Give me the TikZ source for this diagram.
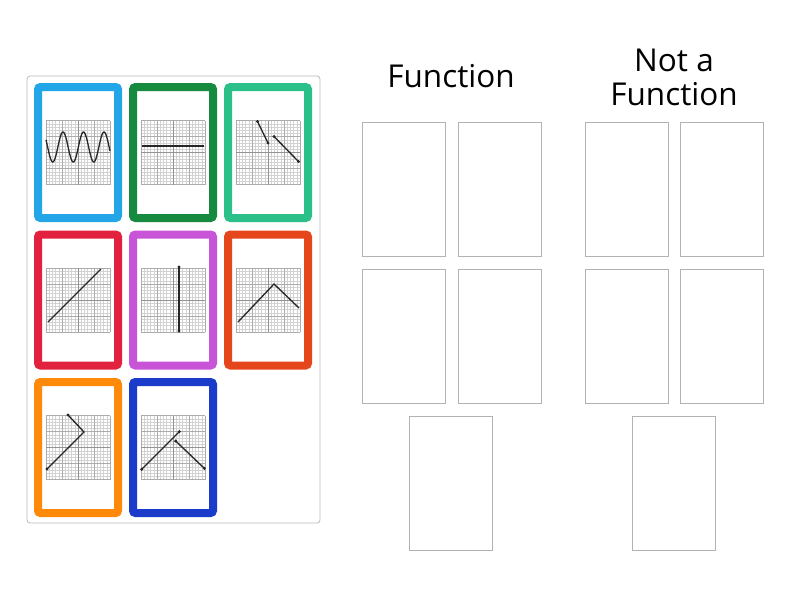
\documentclass[tikz,border=0pt]{standalone}
\usepackage{fontspec}
\setmainfont{Open Sans}
\usepackage{tikz}
\usetikzlibrary{positioning, shadows}
\definecolor{cardblue}{HTML}{22A6E8}
\definecolor{cardgreen}{HTML}{168A3E}
\definecolor{cardteal}{HTML}{2BC08A}
\definecolor{cardred}{HTML}{E2213F}
\definecolor{cardpurple}{HTML}{C855D8}
\definecolor{cardvermilion}{HTML}{E5461C}
\definecolor{cardorange}{HTML}{FF8A0A}
\definecolor{cardnavy}{HTML}{1B3CCB}

\newcommand{\graphpaper}{%
    \draw [gray!35, line width=0.3pt] (-32,-32) grid [step=3.2pt] (32,32);
    \draw [gray!65, line width=0.4pt] (-32,-32) grid [step=16pt] (32,32);
    \draw [gray!85, line width=0.5pt] (-32,0) -- (32,0) (0,-32) -- (0,32);
}

\begin{document}
\begin{tikzpicture}[x=1pt, y=-1pt]
    \tikzset{card/.style={draw, line width=8pt, fill=white, rounded corners=2.5pt, minimum width=80pt, minimum height=131pt, drop shadow={shadow xshift=0pt, shadow yshift=-2pt, opacity=0.2}},
        slot/.style={draw=gray!60, line width=0.8pt, minimum width=83pt, minimum height=134pt},
        title/.style={font=\fontsize{31.5}{34}\selectfont, align=center},
        curve/.style={black!85, line width=1.3pt},
        dot/.style={fill=black!85}
    }
    \useasboundingbox (0,0) rectangle (800,600);

    % card tray
    \node (Tray) [draw=gray!55, line width=0.8pt, rounded corners=3pt, minimum width=293pt, minimum height=447pt] at (173.5,299.5) {};

    \foreach \i / \x / \y / \c in {1/78/152.5/cardblue, 2/173/152.5/cardgreen, 3/268/152.5/cardteal,
        4/78/300/cardred, 5/173/300/cardpurple, 6/268/300/cardvermilion,
        7/78/447.5/cardorange, 8/173/447.5/cardnavy} {
        \node (Card-\i) [card, draw=\c] at (\x, \y) {};
        \begin{scope}[shift={(Card-\i.center)}]
            \graphpaper
        \end{scope}
    }

    % the graphs
    \begin{scope}[shift={(Card-1.center)}]
        \draw [curve, domain=-32:32, samples=90, smooth] plot (\x, {-5.5-15*cos(17.56*(\x+15))});
    \end{scope}
    \begin{scope}[shift={(Card-2.center)}]
        \draw [curve] (-31,-6.5) -- (31,-6.5);
    \end{scope}
    \begin{scope}[shift={(Card-3.center)}]
        \draw [curve] (-10.5,-31) -- (0,-9.5) (6,-16) -- (30.5,9);
        \foreach \p in {(-10.5,-31), (0,-9.5), (6,-16), (30.5,9)}
            \fill [dot] \p circle (1.7);
    \end{scope}
    \begin{scope}[shift={(Card-4.center)}]
        \draw [curve] (-30,22) -- (23,-31);
    \end{scope}
    \begin{scope}[shift={(Card-5.center)}]
        \draw [curve] (6,-33) -- (6,31);
        \foreach \p in {(6,-33), (6,31)}
            \fill [dot] \p circle (1.7);
    \end{scope}
    \begin{scope}[shift={(Card-6.center)}]
        \draw [curve] (-30,22) -- (6,-16) -- (31,8);
    \end{scope}
    \begin{scope}[shift={(Card-7.center)}]
        \draw [curve] (-10,-32.5) -- (6,-15.5) -- (-31,21.5);
        \foreach \p in {(-10,-32.5), (-31,21.5)}
            \fill [dot] \p circle (1.7);
    \end{scope}
    \begin{scope}[shift={(Card-8.center)}]
        \draw [curve] (-31.3,21.8) -- (6.3,-15.8) (2.7,-6.5) -- (31.3,20.8);
        \foreach \p in {(-31.3,21.8), (6.3,-15.8), (2.7,-6.5), (31.3,20.8)}
            \fill [dot] \p circle (1.7);
    \end{scope}

    % drop zones
    \node (F-Title) [title] at (451,76) {Function};
    \node (N-Title) [title] at (674,77) {Not a\\Function};
    \foreach \i / \x / \y in {1/404/189.5, 2/499.5/189.5, 3/404/336, 4/499.5/336, 5/451/483.5} {
        \node (F-\i) [slot] at (\x, \y) {};
    }
    \foreach \i / \x / \y in {1/626.5/189.5, 2/721.5/189.5, 3/626.5/336, 4/721.5/336, 5/674/483.5} {
        \node (N-\i) [slot] at (\x, \y) {};
    }
\end{tikzpicture}
\end{document}
